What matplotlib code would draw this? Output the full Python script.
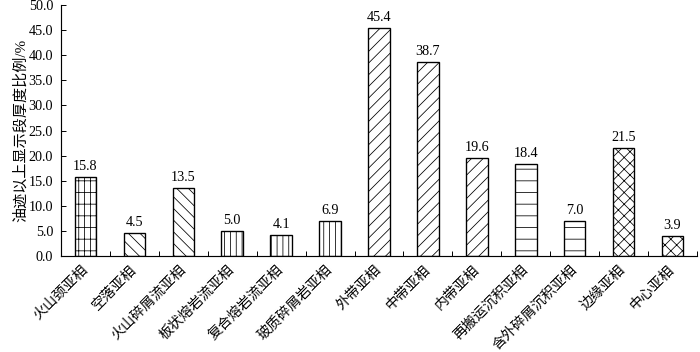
import matplotlib
matplotlib.use("Agg")
import matplotlib.pyplot as plt
import numpy as np

# ----------------- Data -----------------
categories = ["火山颈亚相", "空落亚相", "火山碎屑流亚相", "板状熔岩流亚相", "复合熔岩流亚相",
              "玻质碎屑岩亚相", "外带亚相", "中带亚相", "内带亚相", "再搬运沉积亚相",
              "含外碎屑沉积亚相", "边缘亚相", "中心亚相"]
values = [15.8, 4.5, 13.5, 5.0, 4.1, 6.9, 45.4, 38.7, 19.6, 18.4, 7.0, 21.5, 3.9]
hatches = ["+|", "\\\\", "\\\\", "||", "||", "||", "//", "//", "//", "-", "-", "xx", "xx"]
y_ticks = np.arange(0, 50.1, 5)

plt.rcParams['font.family'] = ['Liberation Serif', 'Noto Sans CJK SC']
plt.rcParams['hatch.linewidth'] = 0.8
plt.rcParams['hatch.color'] = 'black'

DPI = 70
fig = plt.figure(figsize=(700 / DPI, 352 / DPI), dpi=DPI)
ax = fig.add_axes([61 / 700, 1 - 256 / 352, 636 / 700, 251 / 352])

x = np.arange(len(categories))
bars = ax.bar(x, values, width=0.44, color='white', edgecolor='black', linewidth=1.4)
for b, h in zip(bars, hatches):
    b.set_hatch(h)

for xi, v in zip(x, values):
    ax.text(xi, v + 0.8, f"{v:.1f}", ha='center', va='bottom', fontsize=14.5)

ax.set_xlim(-0.5, len(categories) - 0.5)
ax.set_ylim(0, 50)
ax.set_yticks(y_ticks)
ax.set_yticklabels([f"{t:.1f}" for t in y_ticks], fontsize=14.5)

ax.set_xticks(x)
ax.set_xticklabels(categories, rotation=45, ha='right', va='center',
                   rotation_mode='anchor', fontsize=14.5)
ax.set_xticks(np.arange(-0.5, len(categories)), minor=True)
ax.tick_params(axis='x', which='major', length=0, pad=12)
ax.tick_params(axis='x', which='minor', direction='in', length=5, width=1)
ax.tick_params(axis='y', direction='in', length=5, width=1, pad=8)

for s in ['top', 'right']:
    ax.spines[s].set_visible(False)
for s in ['left', 'bottom']:
    ax.spines[s].set_linewidth(1.2)

ax.set_ylabel("油迹以上显示段厚度比例/%", fontsize=15.5, labelpad=1)

fig.savefig("out.png", dpi=DPI)
